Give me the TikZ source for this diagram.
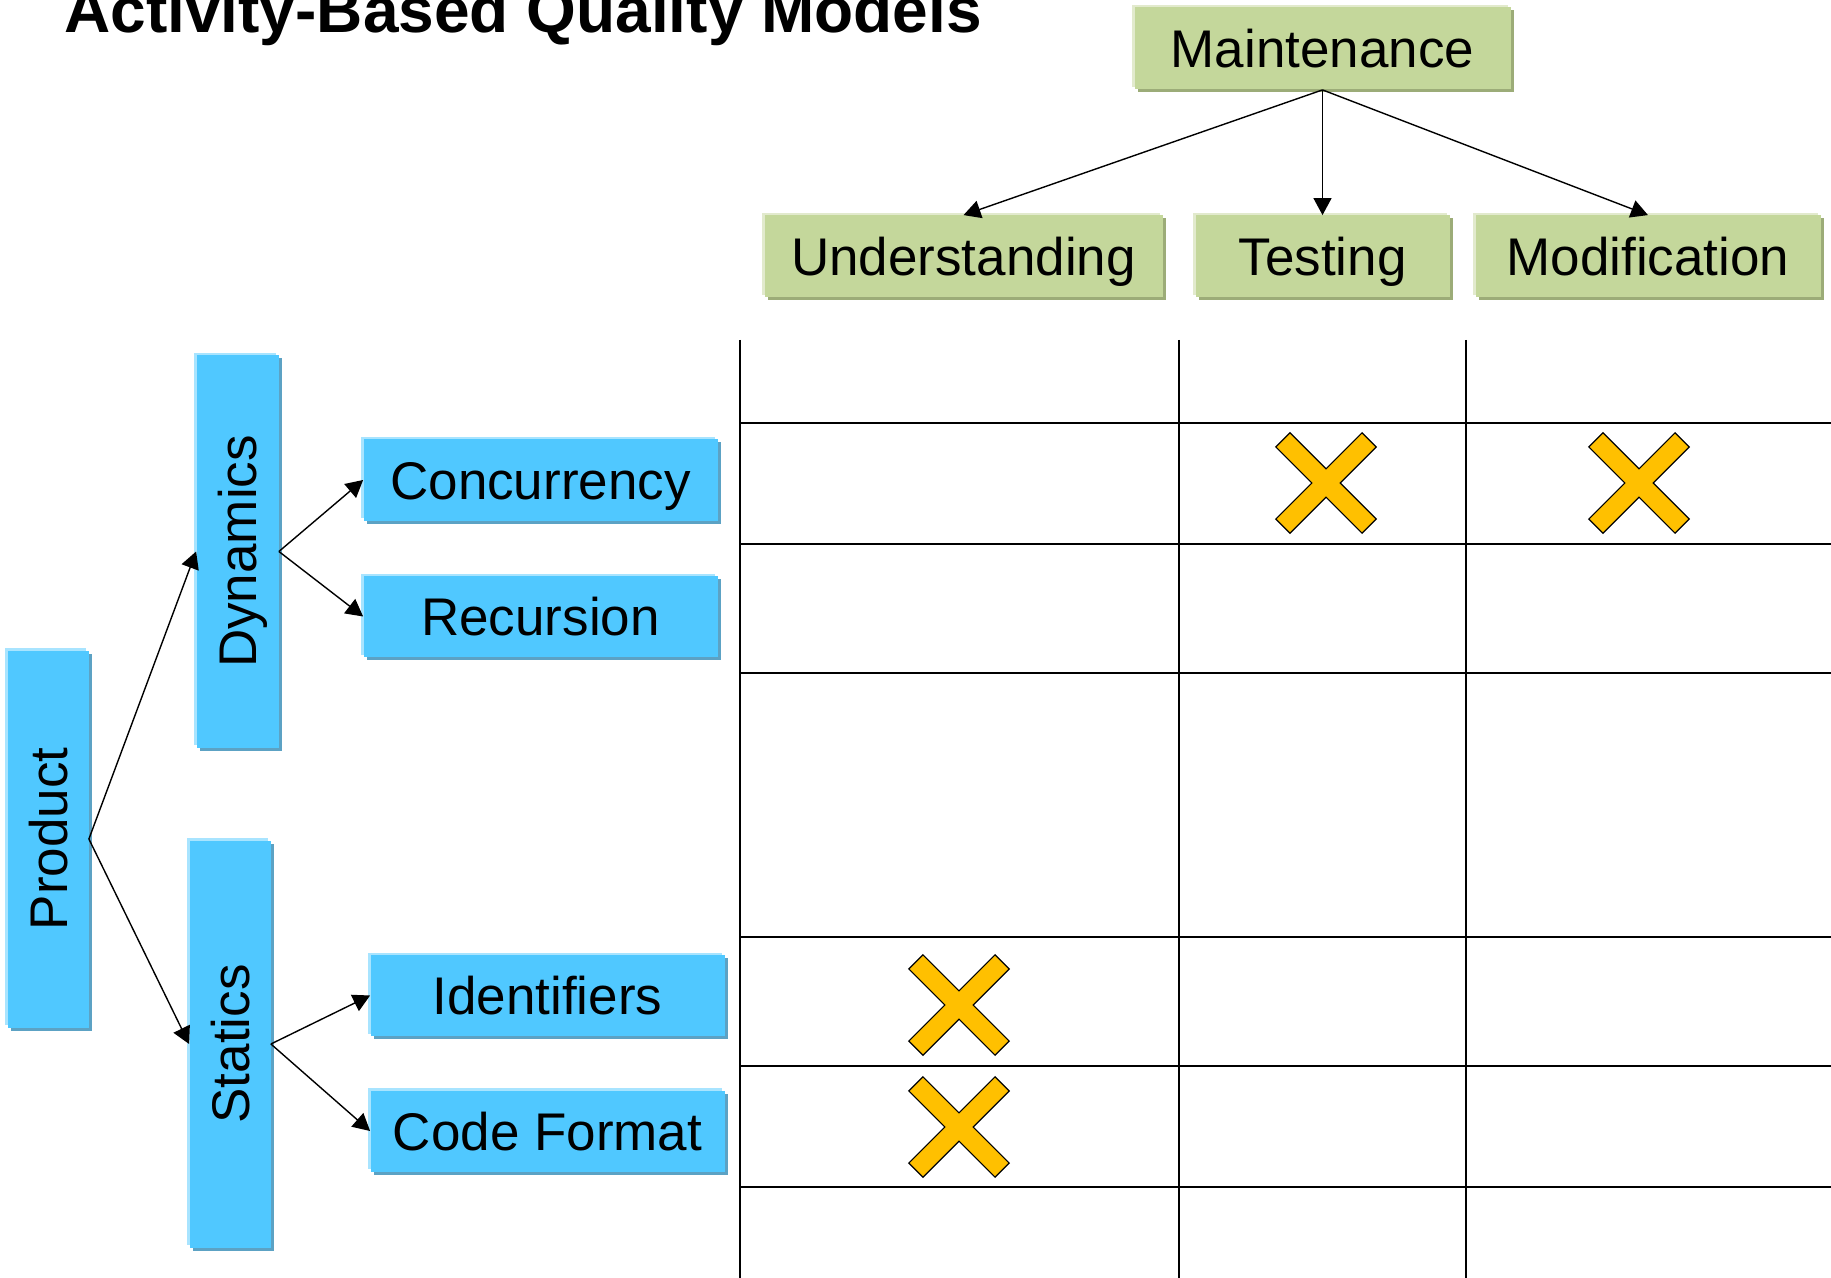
\documentclass[tikz,border=0pt]{standalone}
\usepackage{fontspec}
\setmainfont{Liberation Sans}
\usepackage{graphicx}
\usepackage{xcolor}
\usetikzlibrary{arrows.meta, shadows}

\definecolor{actgreen}{HTML}{C4D79B}
\definecolor{actgreenlight}{HTML}{E2EACD}
\definecolor{actgreendark}{HTML}{9CAC78}
\definecolor{facblue}{HTML}{50C8FF}
\definecolor{facbluelight}{HTML}{A8E4FF}
\definecolor{facbluedark}{HTML}{5CA2C4}
\definecolor{crossyellow}{HTML}{FFC000}

% label turned upright, centred on its capitals
\newcommand{\vlabel}[1]{\rotatebox{90}{\raisebox{0pt}[19pt][0pt]{#1}}}

\tikzset{
    box/.style={inner sep=0pt, font=\fontsize{26.5}{30}\selectfont},
    flat/.style={text height=19pt, text depth=0pt},
    activity/.style={box, flat, fill=actgreen, minimum height=41pt,
        drop shadow={shadow xshift=1.5pt, shadow yshift=-1.5pt, fill=actgreendark, opacity=1},
        drop shadow={shadow xshift=-1.2pt, shadow yshift=1.2pt, fill=actgreenlight, opacity=1}},
    facet/.style={box, fill=facblue,
        drop shadow={shadow xshift=1.5pt, shadow yshift=-1.5pt, fill=facbluedark, opacity=1},
        drop shadow={shadow xshift=-1.2pt, shadow yshift=1.2pt, fill=facbluelight, opacity=1}},
    hfacet/.style={facet, flat, minimum width=177pt, minimum height=40.5pt},
    link/.style={line width=0.7pt, -{Triangle[length=8.5pt, width=9pt]}},
    grid/.style={line width=0.8pt},
    impact/.style={fill=crossyellow, draw=black, line width=0.6pt, line join=miter}
}

\begin{document}
\begin{tikzpicture}[x=0.5pt, y=-0.5pt]
    \useasboundingbox (0,0) rectangle (1831,1278);

    % Title
    \node[anchor=base west, inner sep=0pt, font=\bfseries\fontsize{32}{38}\selectfont] (title) at (64,33) {Activity-Based Quality Models};

    % Activities
    \node[activity, minimum width=188pt] (maint) at (1322.5,48.5) {Maintenance};
    \node[activity, minimum width=199pt] (under) at (963.5,256.5) {Understanding};
    \node[activity, minimum width=127pt] (test) at (1322.5,256.5) {Testing};
    \node[activity, minimum width=172.5pt] (modif) at (1648,256.5) {Modification};

    \foreach \t in {under, test, modif} {
        \draw[link] (maint.south) -- (\t.north);
    }

    % Facets
    \node[facet, minimum width=40.5pt, minimum height=188.5pt] (product) at (48,839) {\vlabel{Product}};
    \node[facet, minimum width=41pt, minimum height=196pt] (dyn) at (237.5,551.5) {\vlabel{Dynamics}};
    \node[facet, minimum width=40.5pt, minimum height=203.5pt] (stat) at (230,1044) {\vlabel{Statics}};
    \node[hfacet] (conc) at (540.5,480) {Concurrency};
    \node[hfacet] (recur) at (540.5,616.5) {Recursion};
    \node[hfacet] (ident) at (547.5,995.5) {Identifiers};
    \node[hfacet] (format) at (547.5,1131) {Code Format};

    \draw[link] (product.east) -- (dyn.west);
    \draw[link] (product.east) -- (stat.west);
    \draw[link] (dyn.east) -- (conc.west);
    \draw[link] (dyn.east) -- (recur.west);
    \draw[link] (stat.east) -- (ident.west);
    \draw[link] (stat.east) -- (format.west);

    % Matrix
    \foreach \x in {740, 1179, 1466} {
        \draw[grid] (\x,340) -- (\x,1278);
    }
    \foreach \y in {423, 544, 673, 937, 1066, 1187} {
        \draw[grid] (740,\y) -- (1831,\y);
    }

    % Crosses
    \foreach \x/\y in {1326/483, 1639/483, 959/1005, 959/1127} {
        \draw[impact, shift={(\x,\y)}, rotate=45] (-10,-61) -- (10,-61) -- (10,-10) -- (61,-10) -- (61,10) -- (10,10)
            -- (10,61) -- (-10,61) -- (-10,10) -- (-61,10) -- (-61,-10) -- (-10,-10) -- cycle;
    }
\end{tikzpicture}
\end{document}
